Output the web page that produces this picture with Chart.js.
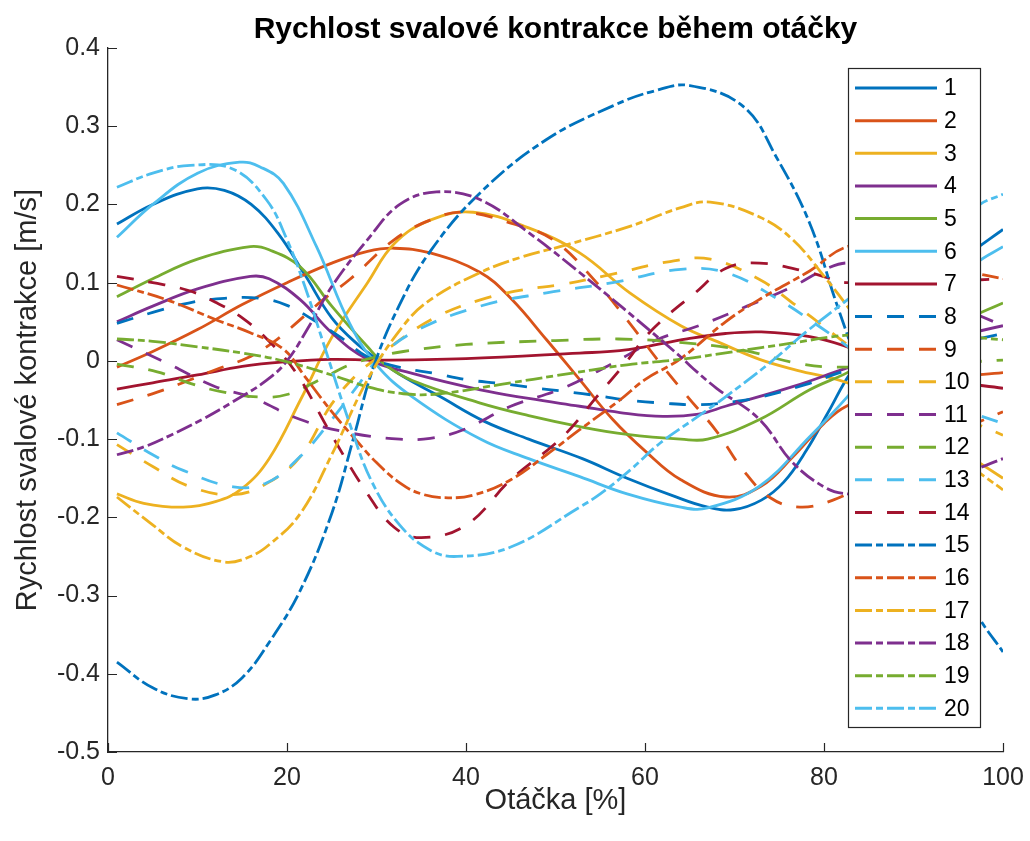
<!DOCTYPE html>
<html>
<head>
<meta charset="utf-8">
<title>Rychlost svalové kontrakce během otáčky</title>
<script src="https://cdn.jsdelivr.net/npm/chart.js@4.4.0/dist/chart.umd.min.js"></script>
<style>
  html, body { margin: 0; padding: 0; background: #ffffff; }
  canvas { display: block; }
</style>
</head>
<body>
<canvas id="chart" width="1030" height="841"></canvas>
<script>
// Contraction velocity [m/s] of each muscle over one turn [%], as [turn %, velocity] pairs.
const s1  = [[1,0.175],[5,0.2],[10,0.22],[13,0.218],[16,0.2],[19,0.163],[22,0.11],[25,0.055],[28,0.02],[30,0.003],[33,-0.02],[37,-0.045],[42,-0.077],[47,-0.1],[53,-0.125],[58,-0.15],[63,-0.172],[67,-0.187],[70,-0.19],[73,-0.178],[75.5,-0.155],[78,-0.115],[80.5,-0.065],[83,-0.015],[87,0.04],[92,0.1],[96,0.135],[100,0.168]];
const s2  = [[1,-0.008],[5,0.012],[10,0.04],[15,0.072],[20,0.1],[25,0.125],[29,0.14],[32,0.144],[36,0.138],[41.6,0.113],[45,0.08],[49,0.027],[52.7,-0.024],[56.4,-0.075],[60,-0.115],[64,-0.152],[69,-0.174],[73,-0.16],[76.5,-0.123],[80,-0.08],[82.5,-0.058],[88,-0.035],[94,-0.022],[100,-0.015]];
const s3  = [[1,-0.17],[4,-0.182],[8.4,-0.187],[12,-0.18],[15,-0.163],[18,-0.125],[21.5,-0.05],[25,0.03],[29,0.1],[32,0.15],[36,0.18],[40.8,0.19],[47,0.17],[52.7,0.138],[58.3,0.087],[64,0.045],[68.4,0.023],[72.8,0.002],[77,-0.012],[82.6,-0.028],[88,-0.06],[94,-0.105],[100,-0.15]];
const s4  = [[1,0.05],[5,0.07],[10,0.092],[15.9,0.108],[18,0.105],[21.5,0.078],[25,0.036],[29,0.002],[34,-0.016],[41.6,-0.037],[47,-0.048],[52.7,-0.058],[57.2,-0.066],[62,-0.071],[66,-0.068],[69,-0.058],[76.5,-0.033],[82.6,-0.009],[90,0.018],[100,0.045]];
const s5  = [[1,0.082],[5,0.105],[10,0.13],[15.9,0.146],[18,0.142],[21.5,0.12],[25,0.07],[29,0.018],[31,-0.005],[34,-0.025],[41.6,-0.054],[47,-0.07],[52.7,-0.084],[58,-0.094],[64,-0.1],[67,-0.1],[72.8,-0.075],[78.4,-0.037],[82.6,-0.015],[88,0.02],[94,0.045],[100,0.074]];
const s6  = [[1,0.158],[5,0.2],[10,0.24],[14.7,0.254],[17,0.248],[19.6,0.227],[23.3,0.146],[27,0.048],[30,-0.005],[34,-0.046],[41.6,-0.1],[47,-0.125],[52.7,-0.148],[58,-0.17],[64,-0.187],[67,-0.188],[72.8,-0.16],[78.4,-0.097],[82.6,-0.046],[87,0.015],[92,0.075],[97,0.125],[100,0.146]];
const s7  = [[1,-0.036],[5,-0.028],[10,-0.018],[15,-0.007],[20,-0.001],[25,0.002],[30,0.001],[40,0.003],[52.7,0.01],[57.2,0.013],[60,0.018],[64.7,0.028],[69,0.035],[73,0.037],[78.4,0.031],[82.6,0.018],[88,-0.005],[94,-0.025],[100,-0.035]];
const s8  = [[1,0.048],[5,0.062],[9,0.074],[13,0.08],[17,0.08],[20,0.071],[23,0.052],[26,0.03],[29,0.005],[32.5,-0.008],[36.5,-0.016],[40,-0.024],[44,-0.029],[48,-0.035],[51,-0.039],[55,-0.045],[58,-0.05],[62,-0.054],[66,-0.056],[70,-0.052],[73,-0.046],[78,-0.03],[82.6,-0.012],[90,0.01],[100,0.035]];
const s9  = [[1,-0.056],[5.5,-0.04],[9,-0.025],[12.3,-0.01],[15.6,0.004],[18.6,0.025],[21,0.048],[24,0.078],[27,0.104],[32,0.155],[36,0.18],[39.7,0.19],[45,0.176],[49.7,0.155],[54.6,0.1],[58.3,0.048],[61.7,-0.003],[64.7,-0.045],[68,-0.09],[71,-0.14],[74,-0.175],[77.3,-0.187],[81,-0.178],[85,-0.155],[90,-0.12],[95,-0.09],[100,-0.065]];
const s10 = [[1,-0.107],[5,-0.135],[9,-0.16],[14,-0.171],[18,-0.155],[21.5,-0.122],[25,-0.055],[28,-0.015],[30,0.003],[33,0.03],[37,0.058],[41.6,0.078],[46,0.09],[50.8,0.098],[56,0.11],[62.8,0.127],[67.3,0.13],[72.8,0.104],[76.5,0.074],[81,0.035],[85,0.0],[90,-0.04],[95,-0.07],[100,-0.095]];
const s11 = [[1,0.027],[6.6,-0.003],[12,-0.033],[15.9,-0.046],[21.5,-0.075],[27,-0.092],[32.6,-0.1],[36,-0.099],[39.7,-0.088],[45,-0.058],[50.8,-0.035],[56.4,-0.003],[61.3,0.027],[66,0.045],[71.4,0.07],[76.5,0.095],[80.3,0.118],[83,0.125],[88,0.11],[94,0.075],[100,0.045]];
const s12 = [[1,-0.004],[5.5,-0.014],[9,-0.028],[12.5,-0.039],[16.8,-0.046],[20,-0.043],[24,-0.022],[27,-0.005],[30,0.005],[33,0.012],[40,0.021],[50,0.026],[57,0.028],[63.4,0.024],[70.8,0.014],[77,-0.003],[81.5,-0.008],[90,-0.005],[100,0.001]];
const s13 = [[1,-0.092],[5,-0.12],[8.4,-0.14],[14,-0.161],[17.7,-0.156],[21.5,-0.122],[25,-0.075],[28,-0.03],[30,0.0],[34,0.036],[41.6,0.07],[49,0.087],[56.4,0.1],[64,0.117],[69,0.113],[74.7,0.08],[79.6,0.043],[85,0.0],[90,-0.035],[95,-0.06],[100,-0.08]];
const s14 = [[1,0.108],[5,0.1],[9,0.09],[12,0.075],[15,0.055],[18,0.025],[21,-0.015],[25,-0.095],[29,-0.17],[32,-0.213],[35,-0.226],[40,-0.21],[45,-0.152],[50.8,-0.097],[54.6,-0.046],[58,0.0],[60,0.03],[62.5,0.058],[65.4,0.085],[69,0.118],[72.8,0.125],[78.4,0.113],[82.6,0.1],[90,0.1],[100,0.105]];
const s15 = [[1,-0.385],[5,-0.418],[9,-0.432],[12,-0.427],[15,-0.405],[18,-0.36],[21.5,-0.293],[25,-0.195],[27.4,-0.1],[29.6,-0.01],[32.5,0.07],[36,0.14],[41.6,0.215],[49,0.283],[56.4,0.326],[61,0.345],[65,0.352],[71,0.325],[74.7,0.26],[78.4,0.176],[81.5,0.07],[85,-0.04],[90,-0.17],[95,-0.28],[97.4,-0.33],[100,-0.372]];
const s16 = [[1,0.097],[6.6,0.078],[12.2,0.052],[15.9,0.036],[19.6,0.015],[22,-0.02],[25,-0.065],[28,-0.105],[30,-0.13],[32.6,-0.156],[35,-0.17],[38,-0.175],[41,-0.171],[45,-0.152],[49,-0.12],[52.7,-0.088],[57.2,-0.05],[60,-0.024],[64,0.003],[69,0.05],[73,0.08],[78.4,0.115],[82.6,0.146],[87,0.145],[92,0.13],[96,0.115],[100,0.105]];
const s17 = [[1,-0.174],[4.7,-0.207],[8.4,-0.238],[12.9,-0.257],[15.5,-0.252],[18,-0.235],[21.5,-0.195],[25,-0.12],[29,-0.024],[33,0.045],[36,0.078],[41.6,0.113],[46,0.132],[50.8,0.147],[58.3,0.172],[64,0.196],[67.3,0.203],[72.8,0.184],[76.5,0.155],[80.3,0.104],[82.6,0.07],[87,0.0],[92,-0.08],[96,-0.13],[100,-0.165]];
const s18 = [[1,-0.12],[4,-0.11],[7,-0.095],[10.5,-0.075],[14,-0.052],[17.7,-0.025],[20,0.0],[22.5,0.045],[25,0.095],[29,0.155],[32.6,0.2],[36.7,0.216],[41.6,0.206],[47,0.164],[52.7,0.113],[57.5,0.068],[64,0.005],[65.4,-0.01],[68,-0.035],[72.8,-0.075],[76.5,-0.13],[80.3,-0.163],[82.6,-0.17],[87,-0.172],[93,-0.155],[100,-0.125]];
const s19 = [[1,0.028],[5,0.025],[10,0.018],[15,0.01],[19.6,0.0],[25,-0.018],[29,-0.033],[33,-0.042],[37,-0.042],[45,-0.028],[50,-0.019],[58,-0.005],[64,0.002],[70,0.012],[76,0.022],[82.6,0.033],[90,0.036],[100,0.027]];
const s20 = [[1,0.222],[5,0.24],[9.2,0.25],[14,0.245],[17.7,0.206],[20,0.155],[22,0.095],[24,0.025],[27,-0.08],[29.5,-0.155],[32.6,-0.21],[36,-0.242],[39,-0.25],[45,-0.238],[52.7,-0.187],[55,-0.17],[58.3,-0.14],[61.7,-0.105],[65.8,-0.072],[69,-0.046],[74,-0.002],[78,0.037],[82.6,0.078],[88,0.125],[94,0.17],[97.4,0.2],[100,0.213]];

const series = [s1, s2, s3, s4, s5, s6, s7, s8, s9, s10, s11, s12, s13, s14, s15, s16, s17, s18, s19, s20];
const seriesLabels = ['1','2','3','4','5','6','7','8','9','10','11','12','13','14','15','16','17','18','19','20'];
const xTicks = [0, 20, 40, 60, 80, 100];
const yTicks = [-0.5, -0.4, -0.3, -0.2, -0.1, 0, 0.1, 0.2, 0.3, 0.4];

const titleText = 'Rychlost svalové kontrakce během otáčky';
const xLabel = 'Otáčka [%]';
const yLabel = 'Rychlost svalové kontrakce [m/s]';

// Seven-colour cycle; solid, dashed and dash-dot strokes for each pass through it.
const palette = ['#0072BD', '#D95319', '#EDB120', '#7E2F8E', '#77AC30', '#4DBEEE', '#A2142F'];
const dashStyles = [[], [17, 15], [17, 4, 7, 4]];

const FONT = '"Liberation Sans", Arial, Helvetica, sans-serif';
const AXIS = '#262626';

const datasets = series.map((pts, i) => ({
  label: seriesLabels[i],
  data: pts.map(([x, y]) => ({ x, y })),
  borderColor: palette[i % 7],
  backgroundColor: palette[i % 7],
  borderDash: dashStyles[Math.floor(i / 7)],
  borderWidth: 2.8,
  pointRadius: 0,
  fill: false,
  tension: 0.4,
  order: series.length - i
}));

function fmtY(v) {
  const r = Math.round(v * 10) / 10;
  return r === 0 ? '0' : r.toFixed(1);
}

// Inward tick marks on the left and bottom axes.
const innerTicks = {
  id: 'innerTicks',
  afterDatasetsDraw(chart) {
    const { ctx, chartArea: a, scales: { x, y } } = chart;
    ctx.save();
    ctx.strokeStyle = AXIS;
    ctx.lineWidth = 1.2;
    ctx.beginPath();
    xTicks.forEach(v => {
      const px = Math.round(x.getPixelForValue(v)) + 0.5;
      ctx.moveTo(px, a.bottom);
      ctx.lineTo(px, a.bottom - 9);
    });
    yTicks.forEach(v => {
      const py = Math.round(y.getPixelForValue(v)) + 0.5;
      ctx.moveTo(a.left, py);
      ctx.lineTo(a.left + 9, py);
    });
    ctx.stroke();
    ctx.restore();
  }
};

// Boxed legend inside the plot, painted over the curves.
const boxLegend = {
  id: 'boxLegend',
  afterDatasetsDraw(chart) {
    const { ctx } = chart;
    const box = { left: 848.5, top: 68.5, right: 980.5, bottom: 727.5 };
    const firstRow = 88, rowStep = 32.65;
    ctx.save();
    ctx.fillStyle = '#ffffff';
    ctx.fillRect(box.left, box.top, box.right - box.left, box.bottom - box.top);
    ctx.strokeStyle = AXIS;
    ctx.lineWidth = 1.2;
    ctx.strokeRect(box.left, box.top, box.right - box.left, box.bottom - box.top);
    ctx.font = '23px ' + FONT;
    ctx.textBaseline = 'middle';
    ctx.textAlign = 'left';
    chart.data.datasets.forEach((ds, i) => {
      const yy = firstRow + i * rowStep;
      ctx.beginPath();
      ctx.strokeStyle = ds.borderColor;
      ctx.lineWidth = 3;
      ctx.setLineDash(ds.borderDash);
      ctx.moveTo(855, yy);
      ctx.lineTo(937, yy);
      ctx.stroke();
      ctx.setLineDash([]);
      ctx.fillStyle = '#000000';
      ctx.fillText(ds.label, 944, yy + 1);
    });
    ctx.restore();
  }
};

// Title and axis captions.
const captions = {
  id: 'captions',
  afterDraw(chart) {
    const { ctx, chartArea: a } = chart;
    const cx = (a.left + a.right) / 2;
    ctx.save();
    ctx.textAlign = 'center';
    ctx.textBaseline = 'middle';
    ctx.fillStyle = '#000000';
    ctx.font = 'bold 30px ' + FONT;
    ctx.fillText(titleText, cx, 30);
    ctx.fillStyle = AXIS;
    ctx.font = '29px ' + FONT;
    ctx.fillText(xLabel, cx, 801);
    ctx.translate(28, (a.top + a.bottom) / 2);
    ctx.rotate(-Math.PI / 2);
    ctx.fillText(yLabel, 0, 0);
    ctx.restore();
  }
};

new Chart(document.getElementById('chart'), {
  type: 'line',
  data: { datasets },
  options: {
    responsive: false,
    animation: false,
    events: [],
    layout: { padding: { left: 0, right: 27, top: 48, bottom: 0 } },
    plugins: {
      legend: { display: false },
      tooltip: { enabled: false },
      title: { display: false }
    },
    scales: {
      x: {
        type: 'linear',
        min: 0,
        max: 100,
        afterBuildTicks(scale) { scale.ticks = xTicks.map(v => ({ value: v })); },
        afterFit(scale) {
          scale.height = 89;
          scale.paddingLeft = 0;
          scale.paddingRight = 0;
        },
        grid: { display: false, drawTicks: false },
        border: { display: true, color: AXIS, width: 1.3 },
        ticks: {
          color: AXIS,
          font: { family: FONT, size: 25 },
          padding: 11,
          maxRotation: 0,
          autoSkip: false
        }
      },
      y: {
        type: 'linear',
        min: -0.5,
        max: 0.4,
        afterBuildTicks(scale) { scale.ticks = yTicks.map(v => ({ value: v })); },
        afterFit(scale) {
          scale.width = 108;
          scale.paddingTop = 0;
          scale.paddingBottom = 0;
        },
        grid: { display: false, drawTicks: false },
        border: { display: true, color: AXIS, width: 1.3 },
        ticks: {
          color: AXIS,
          font: { family: FONT, size: 25 },
          padding: 8,
          autoSkip: false,
          callback: v => fmtY(v)
        }
      }
    }
  },
  plugins: [innerTicks, boxLegend, captions]
});
</script>
</body>
</html>
